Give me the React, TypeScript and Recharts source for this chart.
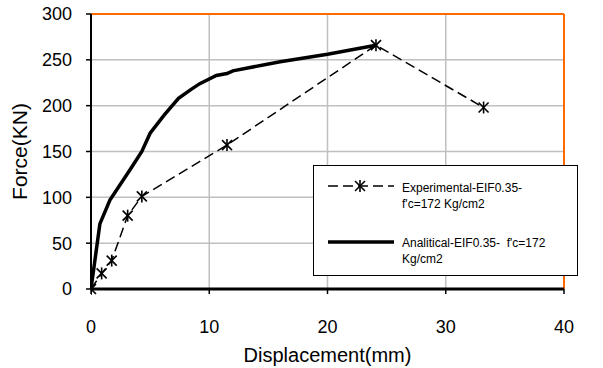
import React from 'react';
import { LineChart, Line, XAxis, YAxis, CartesianGrid, ReferenceLine } from 'recharts';

const expX = [0, 0.9, 1.75, 3.1, 4.3, 11.5, 24.1, 33.2];
const expY = [0, 17, 31, 80, 101, 157, 266, 198];
const anaX = [0, 0.75, 1.6, 3.3, 4.3, 5.0, 6.2, 7.4, 8.5, 9.2, 10.6, 11.5, 12.0, 16.0, 20.0, 24.1];
const anaY = [0, 71, 97, 130, 150, 170, 190, 208, 218, 224, 233, 235, 238, 248, 256, 266];
const xTicks = [0, 10, 20, 30, 40];
const yTicks = [0, 50, 100, 150, 200, 250, 300];
const expName = "Experimental-EIF0.35- f'c=172 Kg/cm2";
const anaName = "Analitical-EIF0.35-  f'c=172 Kg/cm2";

const expData = expX.map((x, i) => ({ x, y: expY[i] }));
const anaData = anaX.map((x, i) => ({ x, y: anaY[i] }));

const FONT = '"Liberation Sans", Arial, sans-serif';

const StarDot = (props: any) => {
  const { cx, cy } = props;
  if (cx == null || cy == null) return null;
  const s = 5;
  return (
    <g stroke="#000" strokeWidth={1.6} fill="none">
      <line x1={cx - s} y1={cy - s} x2={cx + s} y2={cy + s} />
      <line x1={cx - s} y1={cy + s} x2={cx + s} y2={cy - s} />
      <line x1={cx} y1={cy - s - 1} x2={cx} y2={cy + s + 1} />
    </g>
  );
};

const LegendBox = () => (
  <div
    style={{
      position: 'absolute',
      left: 313,
      top: 165,
      width: 265,
      height: 111,
      boxSizing: 'border-box',
      border: '1.5px solid #000',
      background: '#fff',
      fontFamily: FONT,
      fontSize: 12,
      color: '#000',
    }}
  >
    <svg width={80} height={111} style={{ position: 'absolute', left: 0, top: 0 }}>
      <line x1={14} y1={20} x2={80} y2={20} stroke="#000" strokeWidth={1.5} strokeDasharray="10 5" />
      <StarDot cx={46} cy={20} />
      <line x1={14} y1={76} x2={80} y2={76} stroke="#000" strokeWidth={3.5} />
    </svg>
    <div style={{ position: 'absolute', left: 88, top: 14, lineHeight: '16px', whiteSpace: 'nowrap' }}>
      {expName.split(' ')[0]}<br />{expName.split(' ').slice(1).join(' ')}
    </div>
    <div style={{ position: 'absolute', left: 88, top: 69, lineHeight: '16px', whiteSpace: 'pre' }}>
      {"Analitical-EIF0.35-  f'c=172"}<br />Kg/cm2
    </div>
  </div>
);

export default function App() {
  return (
    <div style={{ position: 'absolute', left: 0, top: 0, width: 603, height: 368, background: '#fff' }}>
      <LineChart width={603} height={368} margin={{ top: 14, right: 39, bottom: 0, left: 0 }}>
        <CartesianGrid stroke="#c0c0c0" strokeWidth={1.5} />
        <XAxis
          type="number"
          dataKey="x"
          domain={[0, 40]}
          ticks={xTicks}
          allowDataOverflow
          height={79}
          tickSize={5}
          tickMargin={26}
          axisLine={{ stroke: '#000', strokeWidth: 3 }}
          tickLine={{ stroke: '#000', strokeWidth: 1.5 }}
          tick={{ fill: '#000', fontSize: 18, fontFamily: FONT }}
          label={{ value: 'Displacement(mm)', position: 'insideBottom', offset: 6, fill: '#000', fontSize: 20, fontFamily: FONT }}
        />
        <YAxis
          type="number"
          dataKey="y"
          domain={[0, 300]}
          ticks={yTicks}
          width={91}
          tickSize={5}
          tickMargin={14}
          axisLine={{ stroke: '#000', strokeWidth: 2 }}
          tickLine={{ stroke: '#000', strokeWidth: 1.5 }}
          tick={{ fill: '#000', fontSize: 18, fontFamily: FONT }}
          label={{ value: 'Force(KN)', angle: -90, position: 'insideLeft', offset: 20, fill: '#000', fontSize: 21, fontFamily: FONT, style: { textAnchor: 'middle' } }}
        />
        <ReferenceLine y={300} stroke="#ff6a00" strokeWidth={2} />
        <ReferenceLine x={40} stroke="#ff6a00" strokeWidth={2} />
        <Line
          data={anaData}
          dataKey="y"
          name={anaName}
          stroke="#000"
          strokeWidth={3.5}
          dot={false}
          isAnimationActive={false}
        />
        <Line
          data={expData}
          dataKey="y"
          name={expName}
          stroke="#000"
          strokeWidth={1.5}
          strokeDasharray="10 5"
          dot={<StarDot />}
          isAnimationActive={false}
        />
      </LineChart>
      <LegendBox />
    </div>
  );
}
